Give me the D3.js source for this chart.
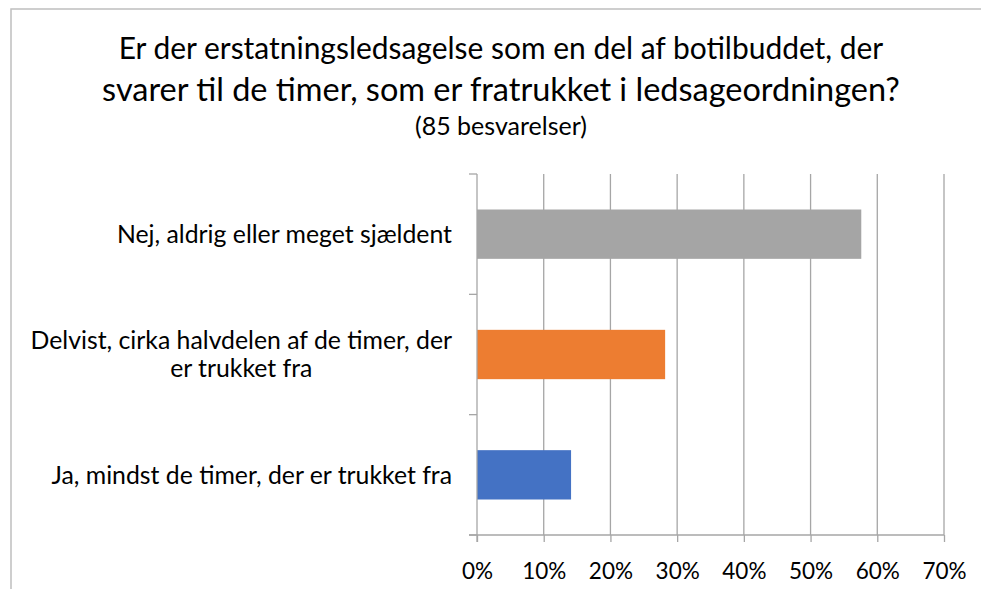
<!DOCTYPE html>
<html>
<head>
<meta charset="utf-8">
<script src="https://cdn.jsdelivr.net/npm/d3@7"></script>
<style>
  html, body { margin: 0; padding: 0; background: #fff; }
  svg { display: block; }
  text { font-family: Lato, "Open Sans", sans-serif; fill: #000; }
</style>
</head>
<body>
<svg id="chart" width="981" height="589"></svg>
<script>
const titleLines = ["Er der erstatningsledsagelse som en del af botilbuddet, der",
                    "svarer til de timer, som er fratrukket i ledsageordningen?"];
const subtitle = "(85 besvarelser)";
const categories = ["Nej, aldrig eller meget sjældent",
                    "Delvist, cirka halvdelen af de timer, der er trukket fra",
                    "Ja, mindst de timer, der er trukket fra"];
const categoryLines = [["Nej, aldrig eller meget sjældent"],
                       ["Delvist, cirka halvdelen af de timer, der", "er trukket fra"],
                       ["Ja, mindst de timer, der er trukket fra"]];
const values = [0.576, 0.282, 0.141];
const colors = ["#a5a5a5", "#ed7d31", "#4472c4"];
const xTicks = [0, 0.1, 0.2, 0.3, 0.4, 0.5, 0.6, 0.7];

const svg = d3.select("#chart");
const W = 981, H = 589;
const plot = {left: 477, right: 944, top: 174, bottom: 535};
const gridColor = "#a6a6a6";

function fit(sel, target) {
  const fs = +sel.attr("font-size");
  const w = sel.node().getComputedTextLength();
  sel.attr("font-size", fs * target / w);
  return sel;
}

// chart border
svg.append("rect").attr("x", 11).attr("y", 9).attr("width", W).attr("height", H)
  .attr("fill", "none").attr("stroke", "#bfbfbf").attr("stroke-width", 1.5);

const x = d3.scaleLinear().domain([0, 0.7]).range([plot.left, plot.right]);
const y = d3.scaleBand().domain(categories).range([plot.top, plot.bottom])
  .paddingInner(0.59).paddingOuter(0.295);

// title
const titleG = svg.append("g");
const titleWidths = [765, 798];
titleLines.forEach((t, i) => {
  const tx = titleG.append("text").attr("x", 501).attr("y", 59 + i * 42)
    .attr("text-anchor", "middle").attr("font-size", 25).text(t);
  fit(tx, titleWidths[i]);
});
fit(titleG.append("text").attr("x", 501).attr("y", 135)
  .attr("text-anchor", "middle").attr("font-size", 18).text(subtitle), 172);

// gridlines
svg.append("g").selectAll("line").data(xTicks.slice(1)).join("line")
  .attr("x1", d => x(d)).attr("x2", d => x(d))
  .attr("y1", plot.top).attr("y2", plot.bottom)
  .attr("stroke", gridColor).attr("stroke-width", 1.3);

// bars
svg.append("g").selectAll("rect").data(categories).join("rect")
  .attr("x", x(0)).attr("y", d => y(d))
  .attr("width", (d, i) => x(values[i]) - x(0))
  .attr("height", y.bandwidth())
  .attr("fill", (d, i) => colors[i]);

// x axis
const xAxis = d3.axisBottom(x).tickValues(xTicks).tickFormat(d3.format(".0%"))
  .tickSize(7).tickSizeOuter(0);
const gx = svg.append("g").attr("transform", `translate(0,${plot.bottom})`).call(xAxis);
gx.select(".domain").remove();
gx.selectAll(".tick line").attr("stroke", gridColor).attr("stroke-width", 1.3);
gx.selectAll(".tick text").attr("font-size", 22.5).attr("font-family", "Lato, sans-serif")
  .attr("fill", "#000").attr("y", 36).attr("dy", "0.35em");
gx.append("line").attr("x1", plot.left - 8).attr("x2", plot.right)
  .attr("y1", 0).attr("y2", 0).attr("stroke", gridColor).attr("stroke-width", 1.3);

// y axis
const step = y.step();
const boundaries = d3.range(categories.length + 1).map(i => plot.top + i * step);
const gy = svg.append("g");
gy.append("line").attr("x1", plot.left).attr("x2", plot.left)
  .attr("y1", plot.top).attr("y2", plot.bottom + 7)
  .attr("stroke", gridColor).attr("stroke-width", 1.3);
gy.selectAll("line.tk").data(boundaries).join("line").attr("class", "tk")
  .attr("x1", plot.left - 8).attr("x2", plot.left)
  .attr("y1", d => d).attr("y2", d => d)
  .attr("stroke", gridColor).attr("stroke-width", 1.3);

// category labels
const labelRight = 452;
const lineH = 28;
const labelSize = 24.8;
categories.forEach((c, i) => {
  const lines = categoryLines[i];
  const cy = y(c) + y.bandwidth() / 2;
  const g = svg.append("g");
  const texts = lines.map((ln, j) => g.append("text")
    .attr("y", cy + (j - (lines.length - 1) / 2) * lineH)
    .attr("dy", "0.35em").attr("font-size", labelSize).text(ln));
  const widths = texts.map(t => t.node().getComputedTextLength());
  const maxW = d3.max(widths);
  const center = labelRight - maxW / 2;
  texts.forEach(t => t.attr("x", center).attr("text-anchor", "middle"));
});
</script>
</body>
</html>
